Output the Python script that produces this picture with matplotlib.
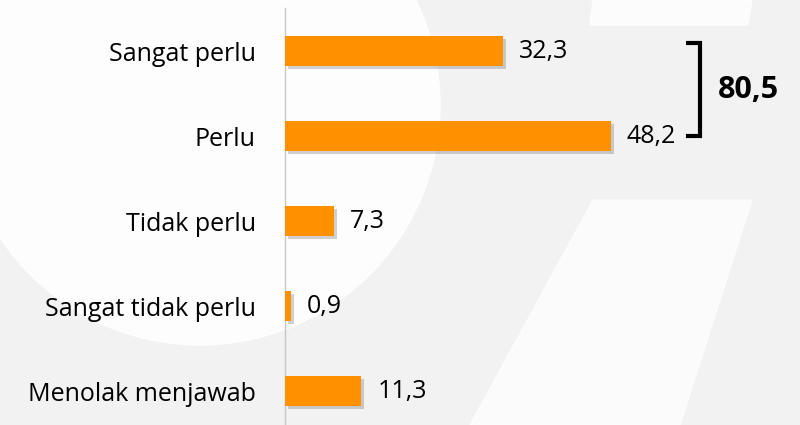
import matplotlib
matplotlib.use("Agg")
import matplotlib.pyplot as plt
import matplotlib.patheffects as pe
from matplotlib.patches import Circle, Polygon

# Data
categories = ["Sangat perlu", "Perlu", "Tidak perlu", "Sangat tidak perlu", "Menolak menjawab"]
values = [32.3, 48.2, 7.3, 0.9, 11.3]
value_labels = ["32,3", "48,2", "7,3", "0,9", "11,3"]
bracket_label = "80,5"

plt.rcParams['font.family'] = ['Open Sans', 'DejaVu Sans']

fig = plt.figure(figsize=(8, 4.25), dpi=100)
fig.patch.set_facecolor("#f2f2f2")

# faint watermark shapes in the background
bg = fig.add_axes([0, 0, 1, 1])
bg.set_xlim(0, 800)
bg.set_ylim(425, 0)
bg.axis("off")
bg.add_patch(Circle((200, 105), 240, color="white", alpha=0.85, zorder=0))
bg.add_patch(Polygon([(593, 0), (752, 0), (748, 25), (590, 25)], color="white", alpha=0.8, zorder=0))
bg.add_patch(Polygon([(593, 200), (752, 200), (680, 425), (470, 425)], color="white", alpha=0.7, zorder=0))

ax = fig.add_axes([285 / 800, 0, 1 - 285 / 800, 1 - 8 / 425])
ax.patch.set_alpha(0)

ypos = list(range(len(categories)))
bars = ax.barh(ypos, values, height=0.35, color="#ff9100", zorder=3)
for b in bars:
    b.set_path_effects([pe.SimplePatchShadow(offset=(2, -2), shadow_rgbFace="#666666", alpha=0.3),
                        pe.Normal()])

ax.set_xlim(0, 76.2)
ax.set_ylim(4.4, -0.506)
ax.set_yticks(ypos)
ax.set_yticklabels(categories, fontsize=18)
ax.tick_params(axis="y", length=0, pad=21)
ax.set_xticks([])
for s in ["top", "right", "bottom"]:
    ax.spines[s].set_visible(False)
ax.spines["left"].set_color("#c8c8c8")
ax.spines["left"].set_linewidth(1)

for y, v, lab in zip(ypos, values, value_labels):
    ax.annotate(lab, (v, y), xytext=(11.5, 0), textcoords="offset points",
                ha="left", va="center", fontsize=18)

# bracket around the first two bars
bx = (700 - 285) / 6.76
ax.plot([bx - 2.0, bx, bx, bx - 2.0], [-0.09, -0.09, 1.0, 1.0], color="black",
        lw=3, solid_capstyle="butt", solid_joinstyle="miter", zorder=4)
ax.text(bx + 2.6, 0.46, bracket_label, fontsize=22, fontweight="bold", ha="left", va="center")

fig.savefig("out.png", dpi=100, facecolor=fig.get_facecolor())
